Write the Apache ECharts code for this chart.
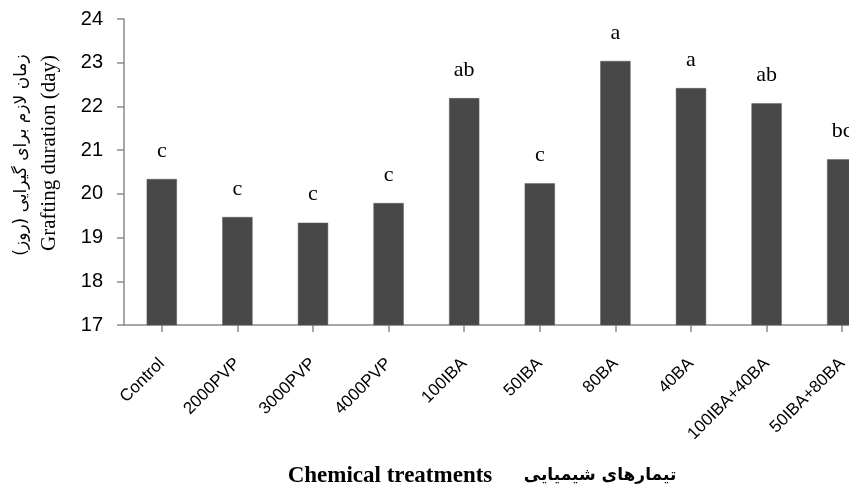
<!DOCTYPE html>
<html>
<head>
<meta charset="utf-8">
<script src="https://cdn.jsdelivr.net/npm/echarts@6/dist/echarts.min.js"></script>
<style>
  html, body { margin: 0; padding: 0; background: #fff; overflow: hidden; }
  /* the canvas is wider than the window, so the last bar is partly cut off */
  #chart { width: 880px; height: 494px; }
</style>
</head>
<body>
<div id="chart"></div>
<script>
// Treatments on the category axis
const treatments = ['Control', '2000PVP', '3000PVP', '4000PVP', '100IBA', '50IBA', '80BA', '40BA', '100IBA+40BA', '50IBA+80BA'];
// Mean grafting duration (days)
const durations = [20.34, 19.47, 19.34, 19.79, 22.19, 20.24, 23.04, 22.42, 22.07, 20.79];
// Mean-separation letters shown above each bar
const groupLetters = ['c', 'c', 'c', 'c', 'ab', 'c', 'a', 'a', 'ab', 'bc'];
// Value-axis range
const yMin = 17, yMax = 24, yStep = 1;

const chart = echarts.init(document.getElementById('chart'), null, { renderer: 'canvas' });

const axisGray = '#8a8a8a';

chart.setOption({
  animation: false,
  backgroundColor: '#ffffff',
  grid: { left: 124, top: 19, right: 0, height: 306, containLabel: false },
  xAxis: {
    type: 'category',
    data: treatments,
    boundaryGap: true,
    axisLine: { lineStyle: { color: axisGray, width: 1.5 } },
    axisTick: { show: true, alignWithLabel: true, length: 7, lineStyle: { color: axisGray, width: 1.5 } },
    axisLabel: {
      rotate: 45,
      interval: 0,
      margin: 36,
      fontFamily: 'Liberation Sans',
      fontSize: 17,
      color: '#000'
    },
    splitLine: { show: false }
  },
  yAxis: {
    type: 'value',
    min: yMin,
    max: yMax,
    interval: yStep,
    axisLine: { show: true, lineStyle: { color: axisGray, width: 1.5 } },
    axisTick: { show: true, inside: false, length: 7, lineStyle: { color: axisGray, width: 1.5 } },
    axisLabel: {
      margin: 21,
      fontFamily: 'Liberation Sans Narrow, Liberation Sans',
      fontSize: 20,
      color: '#000'
    },
    splitLine: { show: false }
  },
  series: [{
    type: 'bar',
    data: durations,
    barWidth: '40%',
    itemStyle: { color: '#484848', borderColor: '#5a5a5a', borderWidth: 0.5 },
    label: {
      show: true,
      position: 'top',
      distance: 17,
      formatter: p => groupLetters[p.dataIndex],
      fontFamily: 'Liberation Serif',
      fontSize: 22,
      color: '#000'
    }
  }],
  graphic: [
    {
      type: 'text',
      x: 22, y: 155,
      rotation: Math.PI / 2,
      style: {
        text: 'زمان لازم برای گیرایی (روز)',
        font: '17px "DejaVu Sans"',
        fill: '#000',
        align: 'center',
        verticalAlign: 'middle'
      }
    },
    {
      type: 'text',
      x: 49, y: 153,
      rotation: Math.PI / 2,
      style: {
        text: 'Grafting duration (day)',
        font: '21px "Liberation Serif"',
        fill: '#000',
        align: 'center',
        verticalAlign: 'middle'
      }
    },
    {
      type: 'text',
      x: 390, y: 476,
      style: {
        text: 'Chemical treatments',
        font: 'bold 23px "Liberation Serif"',
        fill: '#000',
        align: 'center',
        verticalAlign: 'middle'
      }
    },
    {
      type: 'text',
      x: 600, y: 476,
      style: {
        text: 'تیمارهای شیمیایی',
        font: 'bold 17px "DejaVu Sans"',
        fill: '#000',
        align: 'center',
        verticalAlign: 'middle'
      }
    }
  ]
});
</script>
</body>
</html>
